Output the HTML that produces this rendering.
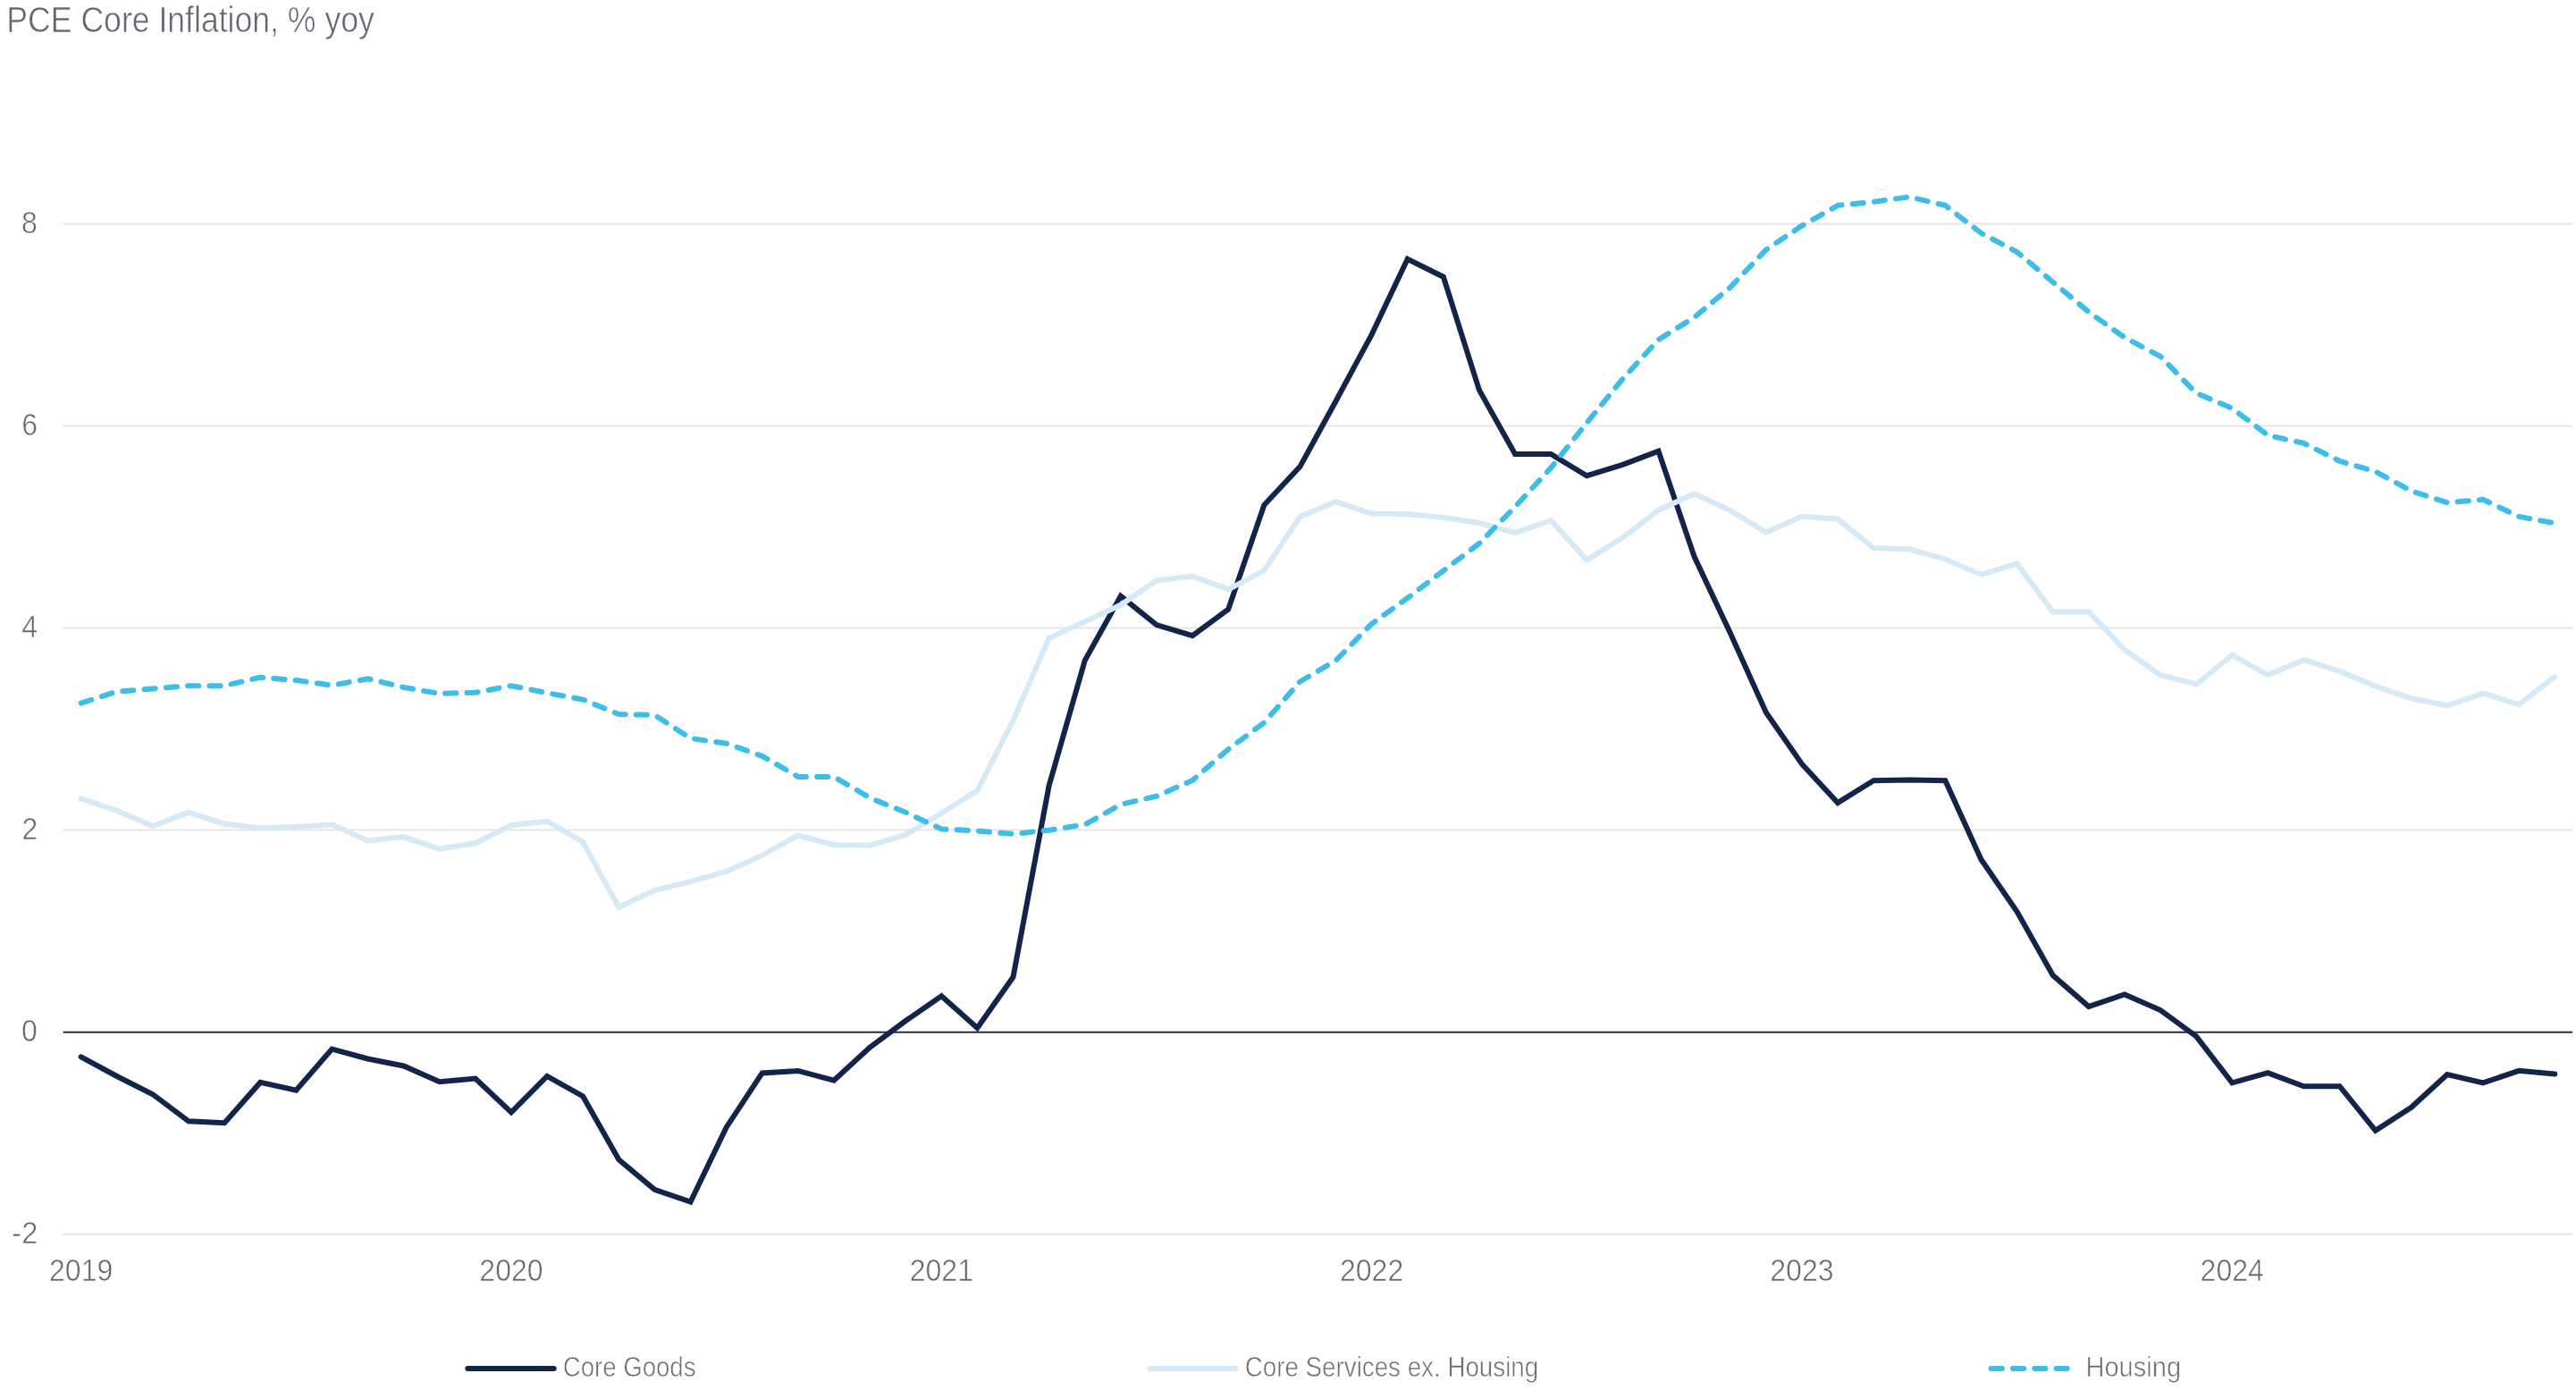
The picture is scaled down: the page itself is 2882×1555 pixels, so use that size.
<!DOCTYPE html>
<html><head><meta charset="utf-8"><style>
html,body{margin:0;padding:0;background:#fff;}
body{width:2882px;height:1555px;overflow:hidden;position:relative;}
svg{position:absolute;left:0;top:0;will-change:transform;}
text{font-family:"Liberation Sans",sans-serif;stroke:#fff;stroke-width:0.6px;}
</style></head><body>
<svg width="2882" height="1555" viewBox="0 0 2882 1555">
<rect x="0" y="0" width="2882" height="1555" fill="#ffffff"/>
<g stroke="#e6e6e6" stroke-width="2">
<line x1="70.7" y1="250.4" x2="2878" y2="250.4"/>
<line x1="70.7" y1="476.5" x2="2878" y2="476.5"/>
<line x1="70.7" y1="702.5" x2="2878" y2="702.5"/>
<line x1="70.7" y1="928.6" x2="2878" y2="928.6"/>
<line x1="70.7" y1="1380.8" x2="2878" y2="1380.8"/>
</g>
<line x1="70.7" y1="1154.7" x2="2878" y2="1154.7" stroke="#2a2d36" stroke-width="2"/>
<text x="0" y="0" font-size="40" fill="#63666c" transform="matrix(0.8898 0 0 1 7.33 36.45)">PCE Core Inflation, % yoy</text>
<text x="0" y="0" font-size="34.5" fill="#63666c" transform="matrix(0.93 0 0 1 24.07 261.00)">8</text>
<text x="0" y="0" font-size="34.5" fill="#63666c" transform="matrix(0.93 0 0 1 24.26 487.10)">6</text>
<text x="0" y="0" font-size="34.5" fill="#63666c" transform="matrix(0.93 0 0 1 24.20 713.10)">4</text>
<text x="0" y="0" font-size="34.5" fill="#63666c" transform="matrix(0.93 0 0 1 24.42 939.20)">2</text>
<text x="0" y="0" font-size="34.5" fill="#63666c" transform="matrix(0.93 0 0 1 24.11 1165.30)">0</text>
<text x="0" y="0" font-size="34.5" fill="#63666c" transform="matrix(0.95 0 0 1 13.24 1391.40)">-2</text>
<text x="0" y="0" font-size="34.5" fill="#63666c" text-anchor="middle" transform="matrix(0.93 0 0 1 90.65 1432.50)">2019</text>
<text x="0" y="0" font-size="34.5" fill="#63666c" text-anchor="middle" transform="matrix(0.93 0 0 1 571.97 1432.50)">2020</text>
<text x="0" y="0" font-size="34.5" fill="#63666c" text-anchor="middle" transform="matrix(0.93 0 0 1 1053.29 1432.50)">2021</text>
<text x="0" y="0" font-size="34.5" fill="#63666c" text-anchor="middle" transform="matrix(0.93 0 0 1 1534.61 1432.50)">2022</text>
<text x="0" y="0" font-size="34.5" fill="#63666c" text-anchor="middle" transform="matrix(0.93 0 0 1 2015.93 1432.50)">2023</text>
<text x="0" y="0" font-size="34.5" fill="#63666c" text-anchor="middle" transform="matrix(0.93 0 0 1 2497.25 1432.50)">2024</text>
<text x="0" y="0" font-size="31" fill="#6a6d72" transform="matrix(0.8908 0 0 1 629.70 1539.80)">Core Goods</text>
<text x="0" y="0" font-size="31" fill="#6a6d72" transform="matrix(0.8951 0 0 1 1392.79 1539.80)">Core Services ex. Housing</text>
<text x="0" y="0" font-size="31" fill="#6a6d72" transform="matrix(0.9376 0 0 1 2333.47 1539.80)">Housing</text>
<g fill="none" stroke-width="6" stroke-linejoin="miter" stroke-linecap="round">
<path d="M90.65 1182.3 L130.76 1204.0 L170.87 1224.2 L210.98 1254.3 L251.09 1256.2 L291.20 1210.9 L331.31 1219.6 L371.42 1173.6 L411.53 1184.5 L451.64 1192.5 L491.75 1210.2 L531.86 1206.5 L571.97 1244.4 L612.08 1204.0 L652.19 1226.4 L692.30 1297.3 L732.41 1330.8 L772.52 1344.5 L812.63 1261.2 L852.74 1200.4 L892.85 1197.9 L932.96 1208.6 L973.07 1171.8 L1013.18 1142.0 L1053.29 1114.2 L1093.40 1149.9 L1133.51 1093.0 L1173.62 879.0 L1213.73 738.9 L1253.84 666.8 L1293.95 699.1 L1334.06 711.1 L1374.17 681.7 L1414.28 565.0 L1454.39 522.1 L1494.50 448.8 L1534.61 374.3 L1574.72 289.8 L1614.83 309.7 L1654.94 436.4 L1695.05 508.0 L1735.16 508.0 L1775.27 532.2 L1815.38 519.8 L1855.49 504.7 L1895.60 622.9 L1935.71 708.0 L1975.82 797.0 L2015.93 854.7 L2056.04 898.1 L2096.15 873.3 L2136.26 872.5 L2176.37 873.3 L2216.48 961.5 L2256.59 1019.9 L2296.70 1091.0 L2336.81 1126.0 L2376.92 1112.5 L2417.03 1130.0 L2457.14 1159.3 L2497.25 1211.4 L2537.36 1200.2 L2577.47 1215.2 L2617.58 1215.2 L2657.69 1264.8 L2697.80 1238.8 L2737.91 1202.0 L2778.02 1211.4 L2818.13 1197.8 L2858.24 1201.5" stroke="#13244a"/>
<path d="M90.65 893.4 L130.76 906.8 L170.87 924.2 L210.98 908.8 L251.09 921.7 L291.20 926.2 L331.31 925.0 L371.42 922.5 L411.53 940.6 L451.64 936.1 L491.75 949.8 L531.86 943.1 L571.97 923.2 L612.08 918.8 L652.19 941.9 L692.30 1015.0 L732.41 996.1 L772.52 986.2 L812.63 975.0 L852.74 956.9 L892.85 934.5 L932.96 945.2 L973.07 945.7 L1013.18 934.0 L1053.29 909.7 L1093.40 884.3 L1133.51 806.0 L1173.62 714.0 L1213.73 695.4 L1253.84 676.8 L1293.95 649.4 L1334.06 644.5 L1374.17 659.4 L1414.28 638.3 L1454.39 578.0 L1494.50 561.2 L1534.61 574.6 L1574.72 575.0 L1614.83 579.0 L1654.94 585.0 L1695.05 596.0 L1735.16 582.0 L1775.27 626.6 L1815.38 601.5 L1855.49 570.7 L1895.60 552.4 L1935.71 571.0 L1975.82 595.6 L2015.93 577.8 L2056.04 580.7 L2096.15 613.0 L2136.26 614.3 L2176.37 625.5 L2216.48 642.9 L2256.59 630.6 L2296.70 684.5 L2336.81 684.2 L2376.92 727.0 L2417.03 755.0 L2457.14 765.5 L2497.25 732.8 L2537.36 755.0 L2577.47 738.2 L2617.58 750.9 L2657.69 767.6 L2697.80 781.3 L2737.91 789.4 L2778.02 775.7 L2818.13 788.1 L2858.24 757.1" stroke="#d6e9f6"/>
<path d="M90.65 786.6 L130.76 773.7 L170.87 770.4 L210.98 767.2 L251.09 767.2 L291.20 757.8 L331.31 761.0 L371.42 766.7 L411.53 759.3 L451.64 769.0 L491.75 775.9 L531.86 774.7 L571.97 767.2 L612.08 775.2 L652.19 782.6 L692.30 799.0 L732.41 799.9 L772.52 826.0 L812.63 831.7 L852.74 845.8 L892.85 868.9 L932.96 868.9 L973.07 892.5 L1013.18 908.8 L1053.29 927.5 L1093.40 929.5 L1133.51 933.0 L1173.62 928.7 L1213.73 922.5 L1253.84 900.0 L1293.95 890.7 L1334.06 873.0 L1374.17 838.3 L1414.28 808.4 L1454.39 762.5 L1494.50 738.9 L1534.61 697.9 L1574.72 669.0 L1614.83 638.5 L1654.94 608.0 L1695.05 567.0 L1735.16 523.4 L1775.27 473.0 L1815.38 424.0 L1855.49 380.0 L1895.60 355.0 L1935.71 321.5 L1975.82 279.4 L2015.93 252.6 L2056.04 229.8 L2096.15 225.8 L2136.26 220.3 L2176.37 229.8 L2216.48 260.8 L2256.59 281.9 L2296.70 315.5 L2336.81 349.0 L2376.92 377.6 L2417.03 398.7 L2457.14 439.8 L2497.25 456.7 L2537.36 487.0 L2577.47 495.9 L2617.58 515.8 L2657.69 527.5 L2697.80 549.3 L2737.91 562.2 L2778.02 558.8 L2818.13 577.9 L2858.24 585.3" stroke="#3fbde9" stroke-dasharray="12.17 12.17"/>
</g>
<g stroke-width="6" stroke-linecap="round" fill="none">
<line x1="523.3" y1="1531" x2="619.7" y2="1531" stroke="#13244a"/>
<line x1="1286.4" y1="1531" x2="1382.7" y2="1531" stroke="#d6e9f6"/>
<line x1="2227.6" y1="1531" x2="2323.6" y2="1531" stroke="#3fbde9" stroke-dasharray="12.17 12.17"/>
</g>
</svg>
</body></html>
